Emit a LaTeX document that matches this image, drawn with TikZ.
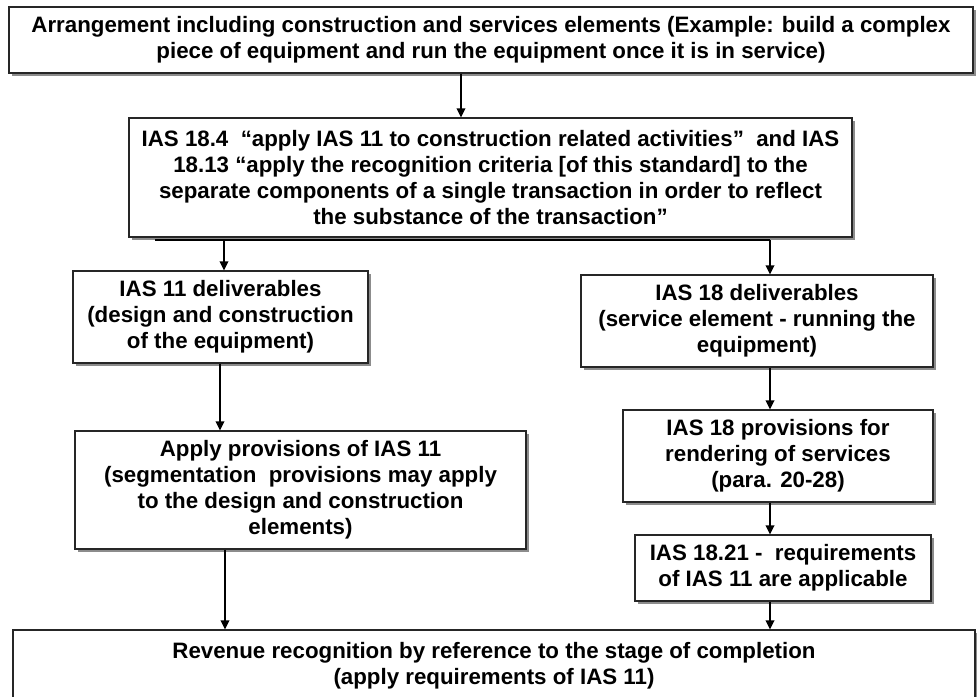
\documentclass[tikz,border=0pt]{standalone}
\usepackage{fontspec}
\setmainfont{Liberation Sans}
\usetikzlibrary{shadows,arrows.meta}
\tikzset{
  box/.style={draw=black!85, line width=1.1pt, fill=white, inner sep=0pt, align=center,
    font=\bfseries\fontsize{22.3}{26}\selectfont,
    drop shadow={shadow xshift=3pt, shadow yshift=-3pt, fill=black!45, opacity=1}},
  arr/.style={line width=1.8pt, -{Triangle[length=9pt,width=8.5pt]}},
  busline/.style={line width=1.6pt}
}
\begin{document}
\begin{tikzpicture}[x=1pt,y=-1pt]
\useasboundingbox (0,0) rectangle (977,696);
\node[box, minimum width=964pt, minimum height=66pt] (top) at (491,40)
  {Arrangement including construction and services elements (Example: build a complex\\piece of equipment and run the equipment once it is in service)};
\node[box, minimum width=723pt, minimum height=119pt] (rule) at (490.5,177.5)
  {IAS 18.4\ \ “apply IAS 11 to construction related activities”\ \ and IAS\\18.13 “apply the recognition criteria [of this standard] to the\\separate components of a single transaction in order to reflect\\the substance of the transaction”};
\node[box, minimum width=295pt, minimum height=92pt] (ias11) at (220.5,317)
  {IAS 11 deliverables\\(design and construction\\of the equipment)};
\node[box, minimum width=352pt, minimum height=92pt] (ias18) at (757,321)
  {IAS 18 deliverables\\(service element - running the\\equipment)};
\node[box, minimum width=451pt, minimum height=118pt] (apply) at (300.5,490)
  {Apply provisions of IAS 11\\(segmentation\ \ provisions may apply\\to the design and construction\\elements)};
\node[box, minimum width=310pt, minimum height=92pt] (prov) at (778,456)
  {IAS 18 provisions for\\rendering of services\\(para. 20-28)};
\node[box, minimum width=296pt, minimum height=66pt] (req) at (783,568)
  {IAS 18.21 -\ \ requirements\\of IAS 11 are applicable};
\node[box, minimum width=962pt, minimum height=72pt] (rev) at (494,666)
  {Revenue recognition by reference to the stage of completion\\(apply requirements of IAS 11)};
% named coordinates for connector columns
\coordinate (cTop) at (461,0);
\coordinate (busL) at (155,240);
\coordinate (busR) at (770,240);
\coordinate (cL) at (224,0);
\coordinate (cL2) at (220,0);
\coordinate (cL3) at (225,0);
\coordinate (cR) at (770,0);
% connectors
\draw[arr] (top.south -| cTop) -- (rule.north -| cTop);
\draw[busline] (busL) -- (busR);
\draw[arr] (busL -| cL) -- (ias11.north -| cL);
\draw[arr] (busR) -- (ias18.north -| cR);
\draw[arr] (ias11.south -| cL2) -- (apply.north -| cL2);
\draw[arr] (ias18.south -| cR) -- (prov.north -| cR);
\draw[arr] (prov.south -| cR) -- (req.north -| cR);
\draw[arr] (apply.south -| cL3) -- (rev.north -| cL3);
\draw[arr] (req.south -| cR) -- (rev.north -| cR);
\end{tikzpicture}
\end{document}
